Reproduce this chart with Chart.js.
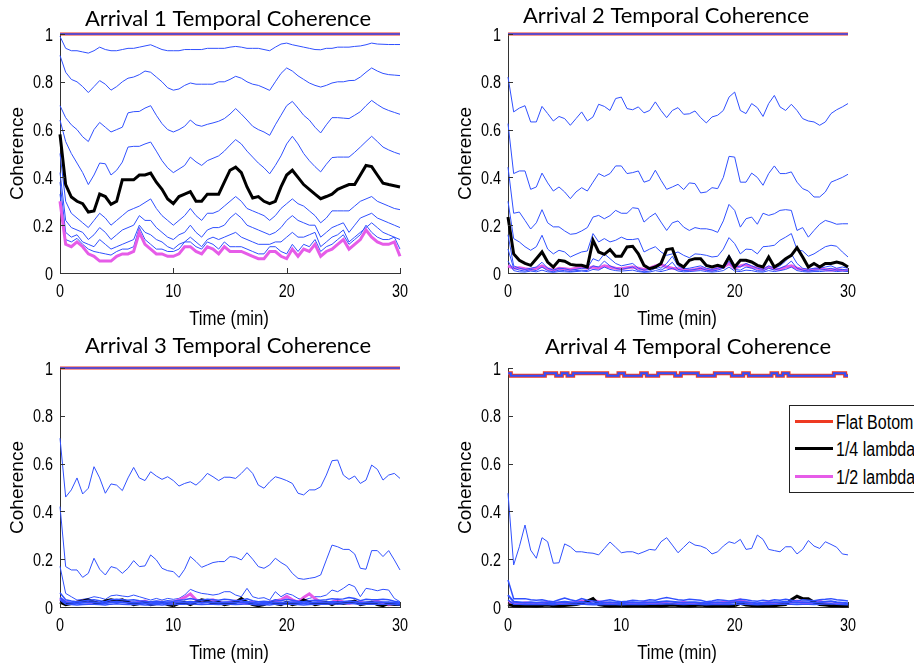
<!DOCTYPE html>
<html>
<head>
<meta charset="utf-8">
<script src="https://cdn.jsdelivr.net/npm/chart.js@4.4.1/dist/chart.umd.min.js"></script>
<style>
  body { margin: 0; width: 914px; height: 664px; overflow: hidden; background: #fff; position: relative; }
  canvas { position: absolute; }
  #c1 { left: 0; top: 0; }
  #c2 { left: 448px; top: 0; }
  #c3 { left: 0; top: 334px; }
  #c4 { left: 448px; top: 334px; }
  #legend {
    position: absolute; left: 789px; top: 405px; width: 200px; height: 86px;
    border: 1px solid #222; background: #fff;
    font-family: 'Liberation Sans', Arial, sans-serif; font-size: 20px; color: #000;
  }
  #legend .row { position: absolute; left: 5px; height: 24px; line-height: 24px; white-space: nowrap; }
  #legend .swatch { display: inline-block; width: 38px; height: 3px; vertical-align: middle; margin-right: 3px; }
  #legend .txt { display: inline-block; transform: scaleX(0.8); transform-origin: left center; vertical-align: middle; }
</style>
</head>
<body>
<canvas id="c1" width="457" height="332"></canvas>
<canvas id="c2" width="466" height="332"></canvas>
<canvas id="c3" width="457" height="330"></canvas>
<canvas id="c4" width="466" height="330"></canvas>
<div id="legend">
  <div class="row" style="top:2px"><span class="swatch" style="background:#ee3a22"></span><span class="txt">Flat Botom</span></div>
  <div class="row" style="top:29px"><span class="swatch" style="background:#000"></span><span class="txt">1/4 lambda</span></div>
  <div class="row" style="top:57px"><span class="swatch" style="background:#e65ce8"></span><span class="txt">1/2 lambda</span></div>
</div>
<script>
// time axis, half-minute samples
var minutes = [0,0.5,1,1.5,2,2.5,3,3.5,4,4.5,5,5.5,6,6.5,7,7.5,8,8.5,9,9.5,10,10.5,11,11.5,12,12.5,13,13.5,14,14.5,
  15,15.5,16,16.5,17,17.5,18,18.5,19,19.5,20,20.5,21,21.5,22,22.5,23,23.5,24,24.5,25,25.5,26,26.5,27,27.5,28,28.5,29,29.5,30];
var ends = [0, 30];
var unity = [1, 1];
var xLabel = 'Time (min)';
var yLabel = 'Coherence';

// ---- Arrival 1 ----
var a1b2 = [0.99,0.94,0.93,0.93,0.925,0.92,0.93,0.945,0.935,0.93, 0.93,0.935,0.94,0.94,0.945,0.95,0.955,0.945,0.935,0.93,
  0.93,0.93,0.935,0.935,0.935,0.935,0.94,0.94,0.94,0.94, 0.945,0.948,0.945,0.94,0.94,0.94,0.935,0.93,0.945,0.958,
  0.962,0.955,0.95,0.945,0.94,0.935,0.934,0.94,0.94,0.945, 0.945,0.945,0.948,0.95,0.955,0.962,0.958,0.957,0.956,0.956, 0.956];
var a1b3 = [0.91,0.84,0.81,0.80,0.78,0.755,0.78,0.805,0.79,0.765, 0.78,0.80,0.815,0.82,0.83,0.845,0.84,0.82,0.80,0.775,
  0.765,0.77,0.785,0.795,0.79,0.79,0.79,0.79,0.80,0.80, 0.81,0.823,0.815,0.80,0.79,0.785,0.775,0.764,0.80,0.835,
  0.858,0.845,0.825,0.81,0.795,0.785,0.778,0.785,0.795,0.80, 0.80,0.805,0.806,0.82,0.84,0.858,0.845,0.835,0.83,0.828, 0.826];
var a1b4 = [0.70,0.65,0.62,0.60,0.57,0.55,0.60,0.63,0.61,0.59, 0.60,0.61,0.67,0.675,0.676,0.69,0.70,0.66,0.625,0.60,
  0.59,0.60,0.614,0.64,0.62,0.614,0.622,0.628,0.635,0.646, 0.665,0.688,0.665,0.64,0.614,0.60,0.59,0.576,0.62,0.66,
  0.70,0.718,0.69,0.66,0.64,0.61,0.586,0.62,0.65,0.65, 0.648,0.646,0.66,0.675,0.70,0.722,0.705,0.69,0.68,0.672, 0.664];
var a1b5 = [0.64,0.55,0.50,0.46,0.42,0.37,0.41,0.46,0.457,0.41, 0.43,0.464,0.527,0.53,0.53,0.54,0.548,0.51,0.47,0.44,
  0.42,0.435,0.45,0.485,0.465,0.45,0.47,0.48,0.49,0.51, 0.535,0.558,0.54,0.51,0.485,0.46,0.44,0.415,0.45,0.49,
  0.54,0.572,0.54,0.50,0.47,0.445,0.423,0.455,0.483,0.485, 0.485,0.485,0.505,0.527,0.55,0.572,0.55,0.527,0.515,0.505, 0.497];
var a1b6 = [0.50,0.30,0.25,0.23,0.21,0.19,0.22,0.25,0.23,0.20, 0.22,0.24,0.26,0.27,0.28,0.295,0.31,0.27,0.24,0.22,
  0.20,0.22,0.24,0.27,0.24,0.22,0.25,0.25,0.26,0.28, 0.30,0.32,0.30,0.27,0.26,0.25,0.24,0.22,0.24,0.27,
  0.29,0.31,0.29,0.28,0.26,0.24,0.21,0.23,0.26,0.26, 0.26,0.26,0.28,0.30,0.31,0.32,0.30,0.29,0.28,0.27, 0.265];
var a1b7 = [0.42,0.22,0.19,0.18,0.17,0.14,0.16,0.19,0.17,0.14, 0.16,0.18,0.19,0.20,0.24,0.22,0.22,0.19,0.17,0.15,
  0.14,0.16,0.17,0.20,0.17,0.15,0.18,0.19,0.19,0.20, 0.23,0.25,0.23,0.20,0.19,0.18,0.17,0.16,0.17,0.19,
  0.22,0.24,0.22,0.21,0.20,0.20,0.15,0.17,0.19,0.20, 0.21,0.17,0.20,0.23,0.24,0.25,0.23,0.22,0.21,0.20, 0.19];
var a1b8 = [0.38,0.17,0.15,0.16,0.13,0.12,0.11,0.14,0.12,0.10, 0.11,0.12,0.13,0.14,0.20,0.17,0.16,0.14,0.13,0.11,
  0.10,0.12,0.13,0.15,0.13,0.11,0.14,0.15,0.14,0.15, 0.16,0.17,0.15,0.14,0.13,0.12,0.12,0.12,0.13,0.13,
  0.15,0.17,0.15,0.15,0.16,0.17,0.11,0.13,0.15,0.16, 0.18,0.13,0.15,0.17,0.19,0.21,0.19,0.17,0.16,0.15, 0.14];
var a1b9 = [0.33,0.14,0.13,0.145,0.12,0.10,0.09,0.085,0.08,0.075, 0.09,0.10,0.10,0.11,0.19,0.14,0.12,0.10,0.10,0.09,
  0.09,0.10,0.13,0.13,0.11,0.10,0.13,0.12,0.10,0.13, 0.11,0.11,0.11,0.10,0.09,0.08,0.08,0.11,0.11,0.09,
  0.08,0.12,0.09,0.12,0.11,0.14,0.09,0.11,0.12,0.14, 0.16,0.12,0.14,0.16,0.20,0.17,0.15,0.14,0.14,0.15, 0.10];
var a1quarter = [0.58,0.37,0.318,0.30,0.29,0.255,0.26,0.33,0.32,0.287, 0.30,0.39,0.39,0.39,0.41,0.41,0.418,0.38,0.35,0.31,
  0.29,0.32,0.33,0.34,0.30,0.30,0.33,0.33,0.33,0.38, 0.43,0.443,0.42,0.36,0.314,0.32,0.30,0.29,0.30,0.36,
  0.41,0.43,0.40,0.37,0.35,0.33,0.311,0.32,0.33,0.35, 0.36,0.37,0.37,0.41,0.45,0.445,0.41,0.376,0.37,0.365, 0.36];
var a1half = [0.30,0.12,0.11,0.13,0.11,0.08,0.07,0.05,0.05,0.05, 0.07,0.08,0.08,0.09,0.17,0.12,0.10,0.08,0.08,0.07,
  0.07,0.08,0.11,0.11,0.09,0.08,0.11,0.10,0.08,0.11, 0.09,0.09,0.09,0.08,0.07,0.06,0.06,0.09,0.09,0.07,
  0.06,0.10,0.07,0.10,0.09,0.12,0.07,0.09,0.10,0.12, 0.14,0.10,0.12,0.14,0.18,0.15,0.13,0.12,0.12,0.13, 0.07];

// ---- Arrival 2 ----
var a2b2 = [0.82,0.674,0.69,0.70,0.632,0.632,0.697,0.667,0.636,0.655, 0.646,0.618,0.646,0.674,0.636,0.653,0.706,0.697,0.68,0.73,
  0.736,0.688,0.683,0.695,0.67,0.68,0.716,0.68,0.65,0.68, 0.692,0.664,0.666,0.678,0.65,0.628,0.653,0.66,0.68,0.736,
  0.757,0.68,0.667,0.709,0.692,0.655,0.709,0.743,0.695,0.68, 0.706,0.68,0.646,0.636,0.632,0.618,0.632,0.667,0.683,0.695, 0.709];
var a2b3 = [0.625,0.416,0.427,0.427,0.35,0.36,0.418,0.377,0.343,0.36, 0.339,0.311,0.339,0.357,0.343,0.38,0.416,0.404,0.416,0.448,
  0.448,0.416,0.42,0.427,0.38,0.388,0.43,0.388,0.35,0.36, 0.371,0.349,0.377,0.374,0.335,0.339,0.357,0.353,0.40,0.488,
  0.485,0.38,0.38,0.418,0.40,0.367,0.416,0.448,0.416,0.416, 0.423,0.38,0.353,0.343,0.318,0.318,0.339,0.38,0.39,0.40, 0.413];
var a2b4 = [0.443,0.25,0.255,0.22,0.184,0.21,0.265,0.21,0.193,0.193, 0.176,0.162,0.165,0.176,0.19,0.234,0.241,0.227,0.24,0.262,
  0.25,0.25,0.273,0.27,0.213,0.234,0.25,0.213,0.178,0.21, 0.218,0.192,0.178,0.19,0.185,0.185,0.18,0.17,0.218,0.287,
  0.262,0.192,0.227,0.234,0.204,0.25,0.241,0.248,0.262,0.265, 0.262,0.178,0.19,0.15,0.178,0.204,0.22,0.213,0.204,0.206, 0.206];
var a2b5 = [0.30,0.144,0.13,0.11,0.095,0.11,0.158,0.10,0.08,0.095, 0.088,0.067,0.078,0.088,0.092,0.165,0.13,0.144,0.13,0.137,
  0.15,0.14,0.14,0.144,0.088,0.10,0.11,0.088,0.074,0.08, 0.088,0.074,0.064,0.08,0.078,0.074,0.067,0.07,0.10,0.148,
  0.123,0.08,0.10,0.098,0.08,0.11,0.112,0.116,0.137,0.15, 0.165,0.098,0.092,0.07,0.08,0.095,0.11,0.116,0.112,0.088, 0.067];
var a2b6 = [0.16,0.03,0.02,0.015,0.02,0.025,0.045,0.02,0.012,0.02, 0.018,0.012,0.015,0.02,0.02,0.06,0.05,0.08,0.06,0.04,
  0.03,0.035,0.04,0.02,0.012,0.015,0.03,0.02,0.04,0.07, 0.03,0.018,0.02,0.025,0.03,0.02,0.015,0.02,0.03,0.075,
  0.03,0.025,0.04,0.03,0.02,0.015,0.03,0.02,0.03,0.05, 0.08,0.04,0.02,0.015,0.02,0.02,0.025,0.03,0.02,0.025, 0.02];
var a2b7 = [0.10,0.02,0.012,0.008,0.015,0.01,0.025,0.01,0.005,0.012, 0.01,0.006,0.01,0.012,0.01,0.03,0.025,0.05,0.03,0.02,
  0.015,0.02,0.025,0.01,0.005,0.008,0.02,0.012,0.025,0.045, 0.015,0.01,0.012,0.015,0.02,0.012,0.008,0.012,0.02,0.05,
  0.015,0.012,0.025,0.02,0.01,0.008,0.02,0.012,0.02,0.03, 0.05,0.02,0.012,0.008,0.012,0.012,0.015,0.02,0.012,0.015, 0.012];
var a2b8 = [0.05,0.01,0.005,0.004,0.008,0.005,0.012,0.005,0.003,0.006, 0.005,0.004,0.006,0.008,0.006,0.015,0.012,0.025,0.015,0.01,
  0.008,0.01,0.012,0.006,0.003,0.004,0.01,0.006,0.012,0.02, 0.008,0.005,0.006,0.008,0.01,0.006,0.004,0.006,0.01,0.025,
  0.008,0.006,0.012,0.01,0.005,0.004,0.01,0.006,0.01,0.015, 0.025,0.01,0.006,0.004,0.006,0.006,0.008,0.01,0.006,0.008, 0.006];
var a2quarter = [0.234,0.08,0.053,0.04,0.032,0.06,0.088,0.046,0.025,0.053, 0.049,0.036,0.032,0.032,0.025,0.137,0.088,0.078,0.098,0.07,
  0.07,0.109,0.112,0.08,0.032,0.018,0.025,0.04,0.098,0.102, 0.04,0.025,0.053,0.06,0.06,0.032,0.025,0.032,0.025,0.067,
  0.025,0.053,0.053,0.046,0.032,0.025,0.067,0.025,0.04,0.06, 0.074,0.106,0.067,0.025,0.04,0.025,0.04,0.04,0.046,0.04, 0.025];
var a2half = [0.03,0.02,0.022,0.018,0.015,0.02,0.03,0.018,0.012,0.02, 0.018,0.015,0.02,0.025,0.02,0.025,0.02,0.03,0.025,0.02,
  0.018,0.022,0.025,0.02,0.015,0.02,0.03,0.035,0.025,0.02, 0.018,0.015,0.012,0.015,0.02,0.015,0.012,0.02,0.025,0.04,
  0.02,0.03,0.035,0.025,0.02,0.015,0.025,0.018,0.015,0.025, 0.03,0.02,0.015,0.012,0.015,0.02,0.015,0.012,0.015,0.012, 0.01];

// ---- Arrival 3 ----
var a3b2 = [0.706,0.46,0.49,0.54,0.473,0.497,0.587,0.54,0.476,0.515, 0.51,0.487,0.54,0.584,0.54,0.529,0.566,0.548,0.534,0.545,
  0.529,0.506,0.517,0.524,0.51,0.531,0.559,0.545,0.529,0.543, 0.543,0.538,0.559,0.584,0.559,0.51,0.497,0.524,0.545,0.538,
  0.529,0.517,0.476,0.469,0.49,0.49,0.503,0.552,0.612,0.615, 0.552,0.534,0.548,0.517,0.531,0.594,0.576,0.531,0.552,0.559, 0.538];
var a3b3 = [0.42,0.169,0.155,0.155,0.124,0.141,0.204,0.158,0.134,0.169, 0.162,0.141,0.162,0.194,0.169,0.172,0.218,0.197,0.162,0.152,
  0.148,0.124,0.158,0.211,0.19,0.166,0.176,0.186,0.19,0.19, 0.211,0.208,0.197,0.227,0.20,0.169,0.162,0.176,0.204,0.186,
  0.172,0.141,0.12,0.116,0.12,0.124,0.134,0.197,0.259,0.252, 0.241,0.241,0.222,0.162,0.158,0.236,0.236,0.211,0.236,0.197, 0.155];
var a3b4 = [0.17,0.057,0.043,0.029,0.032,0.036,0.043,0.039,0.032,0.047, 0.05,0.046,0.043,0.05,0.043,0.036,0.029,0.036,0.029,0.036,
  0.032,0.036,0.05,0.074,0.064,0.057,0.054,0.05,0.054,0.064, 0.064,0.05,0.043,0.078,0.043,0.036,0.039,0.029,0.064,0.043,
  0.057,0.05,0.036,0.029,0.036,0.043,0.043,0.05,0.071,0.064, 0.078,0.095,0.085,0.043,0.078,0.074,0.068,0.074,0.071,0.036, 0.022];
var a3b5 = [0.06,0.03,0.025,0.022,0.025,0.028,0.03,0.026,0.022,0.03, 0.032,0.03,0.028,0.03,0.026,0.024,0.022,0.025,0.022,0.026,
  0.024,0.028,0.03,0.035,0.03,0.028,0.032,0.03,0.028,0.032, 0.03,0.026,0.028,0.034,0.026,0.022,0.024,0.022,0.03,0.026,
  0.032,0.028,0.024,0.022,0.026,0.028,0.028,0.03,0.035,0.032, 0.034,0.04,0.036,0.026,0.032,0.03,0.03,0.032,0.03,0.024, 0.02];
var a3b6 = [0.04,0.02,0.018,0.016,0.018,0.02,0.02,0.018,0.016,0.02, 0.022,0.02,0.018,0.02,0.018,0.016,0.016,0.018,0.016,0.018,
  0.018,0.02,0.02,0.022,0.02,0.018,0.02,0.02,0.018,0.02, 0.02,0.018,0.02,0.022,0.018,0.016,0.018,0.016,0.02,0.018,
  0.02,0.02,0.018,0.016,0.018,0.02,0.02,0.02,0.022,0.02, 0.022,0.024,0.022,0.018,0.02,0.02,0.02,0.02,0.02,0.018, 0.016];
var a3b7 = [0.03,0.012,0.01,0.008,0.01,0.012,0.012,0.01,0.008,0.012, 0.014,0.012,0.01,0.012,0.01,0.008,0.008,0.01,0.008,0.01,
  0.01,0.012,0.012,0.014,0.012,0.01,0.012,0.012,0.01,0.012, 0.012,0.01,0.012,0.014,0.01,0.008,0.01,0.008,0.012,0.01,
  0.012,0.012,0.01,0.008,0.01,0.012,0.012,0.012,0.014,0.012, 0.014,0.016,0.014,0.01,0.012,0.012,0.012,0.012,0.012,0.01, 0.008];
var a3quarter = [0.02,0.01,0.015,0.02,0.025,0.03,0.02,0.015,0.025,0.03, 0.025,0.03,0.02,0.01,0.015,0.02,0.01,0.015,0.02,0.01,
  0.005,0.015,0.02,0.01,0.02,0.03,0.025,0.015,0.02,0.01, 0.015,0.02,0.035,0.02,0.01,0.005,0.01,0.02,0.015,0.01,
  0.02,0.01,0.015,0.03,0.02,0.01,0.015,0.02,0.01,0.02, 0.015,0.02,0.025,0.01,0.015,0.02,0.01,0.005,0.015,0.01, 0.01];
var a3half = [0.035,0.02,0.015,0.02,0.025,0.02,0.02,0.015,0.02,0.025, 0.02,0.025,0.02,0.015,0.02,0.025,0.015,0.02,0.02,0.015,
  0.02,0.03,0.04,0.055,0.03,0.02,0.025,0.03,0.02,0.015, 0.02,0.025,0.02,0.015,0.02,0.01,0.015,0.02,0.025,0.03,
  0.045,0.03,0.02,0.04,0.055,0.035,0.02,0.015,0.02,0.03, 0.02,0.015,0.02,0.02,0.015,0.02,0.025,0.015,0.01,0.015, 0.01];

// ---- Arrival 4 ----
var a4flat = [0.978,0.968,0.968,0.968,0.968,0.968,0.968,0.978,0.978,0.968, 0.978,0.968,0.978,0.978,0.978,0.978,0.978,0.978,0.968,0.968,
  0.978,0.968,0.968,0.968,0.978,0.968,0.968,0.978,0.978,0.978, 0.968,0.978,0.978,0.978,0.968,0.968,0.968,0.978,0.978,0.978,
  0.968,0.968,0.978,0.968,0.968,0.968,0.968,0.978,0.968,0.978, 0.968,0.968,0.968,0.968,0.968,0.968,0.968,0.968,0.978,0.978, 0.968];
var a4b2 = [0.476,0.176,0.252,0.343,0.238,0.204,0.29,0.273,0.183,0.185, 0.264,0.252,0.231,0.231,0.227,0.225,0.218,0.245,0.272,0.25,
  0.227,0.231,0.231,0.222,0.231,0.241,0.238,0.273,0.29,0.259, 0.227,0.25,0.273,0.259,0.255,0.245,0.222,0.231,0.255,0.273,
  0.266,0.283,0.241,0.245,0.301,0.283,0.241,0.236,0.231,0.252, 0.252,0.222,0.241,0.278,0.255,0.245,0.273,0.262,0.25,0.222, 0.218];
var a4b3 = [0.113,0.035,0.035,0.035,0.03,0.028,0.03,0.025,0.022,0.03, 0.038,0.03,0.025,0.035,0.028,0.025,0.022,0.026,0.03,0.025,
  0.022,0.024,0.028,0.026,0.025,0.03,0.028,0.035,0.04,0.035, 0.03,0.028,0.032,0.03,0.028,0.022,0.025,0.03,0.028,0.025,
  0.028,0.032,0.03,0.026,0.024,0.028,0.025,0.03,0.028,0.032, 0.028,0.025,0.03,0.028,0.026,0.03,0.032,0.035,0.03,0.028, 0.025];
var a4b4 = [0.05,0.022,0.02,0.018,0.02,0.018,0.02,0.018,0.016,0.02, 0.022,0.02,0.018,0.022,0.018,0.016,0.016,0.018,0.02,0.018,
  0.016,0.018,0.02,0.018,0.018,0.02,0.02,0.022,0.024,0.022, 0.02,0.018,0.02,0.02,0.018,0.016,0.018,0.02,0.018,0.018,
  0.02,0.022,0.02,0.018,0.016,0.018,0.018,0.02,0.02,0.022, 0.02,0.018,0.02,0.02,0.018,0.02,0.022,0.024,0.02,0.018, 0.016];
var a4b5 = [0.03,0.012,0.012,0.01,0.012,0.01,0.012,0.01,0.009,0.012, 0.013,0.012,0.01,0.013,0.01,0.009,0.009,0.01,0.012,0.01,
  0.009,0.01,0.012,0.01,0.01,0.012,0.012,0.013,0.014,0.013, 0.012,0.01,0.012,0.012,0.01,0.009,0.01,0.012,0.01,0.01,
  0.012,0.013,0.012,0.01,0.009,0.01,0.01,0.012,0.012,0.013, 0.012,0.01,0.012,0.012,0.01,0.012,0.013,0.014,0.012,0.01, 0.009];
var a4quarter = [0.01,0.005,0.004,0.006,0.005,0.004,0.006,0.008,0.005,0.004, 0.006,0.008,0.01,0.015,0.025,0.035,0.01,0.006,0.004,0.005,
  0.006,0.004,0.005,0.006,0.004,0.005,0.005,0.004,0.006,0.008, 0.006,0.005,0.004,0.006,0.008,0.005,0.004,0.005,0.006,0.004,
  0.005,0.015,0.008,0.006,0.005,0.004,0.006,0.005,0.008,0.01, 0.03,0.045,0.035,0.035,0.02,0.01,0.008,0.005,0.006,0.004, 0.005];
var a4half = [0.02,0.015,0.012,0.018,0.015,0.012,0.015,0.02,0.018,0.015, 0.012,0.015,0.02,0.025,0.02,0.028,0.022,0.018,0.015,0.012,
  0.015,0.018,0.015,0.012,0.02,0.015,0.012,0.018,0.015,0.012, 0.015,0.02,0.015,0.012,0.01,0.015,0.018,0.015,0.02,0.018,
  0.025,0.03,0.02,0.015,0.012,0.015,0.02,0.015,0.012,0.015, 0.02,0.025,0.018,0.015,0.02,0.025,0.015,0.012,0.015,0.012, 0.01];

var BLUE = '#3050ff';
var RED = '#ee3a22';
var MAGENTA = '#e65ce8';
var SANS = '"Liberation Sans", Arial, sans-serif';

function xy(t, v) {
  return v.map(function (y, i) { return { x: t[i], y: y }; });
}
function line(v, color, width, t, stepped) {
  return { data: xy(t || minutes, v), borderColor: color, borderWidth: width,
           pointRadius: 0, tension: 0, fill: false, clip: 4, stepped: stepped || false };
}
function tickText(v) {
  return String(Math.round(v * 10) / 10);
}
// condensed text, like the narrow Helvetica of the plots
function narrow(ctx, text, x, y, align) {
  ctx.save();
  ctx.translate(x, y);
  ctx.scale(0.8, 1);
  ctx.textAlign = align;
  ctx.fillText(text, 0, 0);
  ctx.restore();
}

// MATLAB style: ticks point into the plot, labels in a narrow face
var matlabAxes = {
  id: 'matlabAxes',
  afterDraw: function (chart) {
    var ctx = chart.ctx, a = chart.chartArea;
    var xs = chart.scales.x, ys = chart.scales.y;
    ctx.save();
    ctx.strokeStyle = '#333';
    ctx.lineWidth = 1;
    ctx.beginPath();
    xs.ticks.forEach(function (tk) {
      var px = Math.round(xs.getPixelForValue(tk.value)) + 0.5;
      ctx.moveTo(px, a.bottom); ctx.lineTo(px, a.bottom - 5);
    });
    ys.ticks.forEach(function (tk) {
      var py = Math.round(ys.getPixelForValue(tk.value)) + 0.5;
      ctx.moveTo(a.left, py); ctx.lineTo(a.left + 5, py);
    });
    ctx.stroke();

    ctx.fillStyle = '#000';
    ctx.textBaseline = 'alphabetic';
    ctx.font = '18px ' + SANS;
    xs.ticks.forEach(function (tk) {
      narrow(ctx, tickText(tk.value), xs.getPixelForValue(tk.value), a.bottom + 24, 'center');
    });
    ys.ticks.forEach(function (tk) {
      narrow(ctx, tickText(tk.value), a.left - 7, ys.getPixelForValue(tk.value) + 6.5, 'right');
    });
    ctx.font = '21px ' + SANS;
    narrow(ctx, xLabel, (a.left + a.right) / 2 - 1, a.bottom + 52, 'center');
    ctx.restore();
  }
};

var panelTitle = {
  id: 'panelTitle',
  afterDraw: function (chart, args, opts) {
    var ctx = chart.ctx;
    ctx.save();
    ctx.font = '22px Lato, "Open Sans", sans-serif';
    ctx.fillStyle = '#000';
    ctx.textAlign = 'center';
    ctx.textBaseline = 'alphabetic';
    ctx.fillText(opts.text, opts.x, opts.y);
    ctx.restore();
  }
};

function makePanel(id, title, tx, ty, datasets) {
  var canvas = document.getElementById(id);
  return new Chart(canvas, {
    type: 'line',
    data: { datasets: datasets },
    plugins: [matlabAxes, panelTitle],
    options: {
      responsive: false,
      animation: false,
      events: [],
      layout: { padding: { top: 34, left: 0, bottom: 0, right: canvas.width - 400 } },
      plugins: {
        legend: { display: false },
        tooltip: { enabled: false },
        panelTitle: { text: title, x: tx, y: ty }
      },
      scales: {
        x: {
          type: 'linear', min: 0, max: 30,
          afterFit: function (s) { s.height = canvas.height - 273; },
          grid: { display: false, drawTicks: false },
          border: { display: true, color: '#333', width: 1 },
          ticks: { stepSize: 10, display: false }
        },
        y: {
          min: 0, max: 1,
          afterFit: function (s) { s.width = 60; },
          grid: { display: false, drawTicks: false },
          border: { display: true, color: '#333', width: 1 },
          ticks: { stepSize: 0.2, display: false },
          title: { display: true, text: yLabel, color: '#000',
                   padding: { top: 6, bottom: 0 },
                   font: { family: SANS, size: 19 } }
        }
      }
    }
  });
}

makePanel('c1', 'Arrival 1 Temporal Coherence', 228, 26, [
  line(a1quarter, '#000', 3),
  line(a1half, MAGENTA, 3),
  line(a1b9, BLUE, 1), line(a1b8, BLUE, 1), line(a1b7, BLUE, 1), line(a1b6, BLUE, 1),
  line(a1b5, BLUE, 1), line(a1b4, BLUE, 1), line(a1b3, BLUE, 1), line(a1b2, BLUE, 1),
  line(unity, BLUE, 1.5, ends),
  line(unity, RED, 3, ends)
]);

makePanel('c2', 'Arrival 2 Temporal Coherence', 218, 23, [
  line(a2quarter, '#000', 3),
  line(a2b8, BLUE, 1), line(a2b7, BLUE, 1), line(a2b6, BLUE, 1),
  line(a2half, MAGENTA, 3),
  line(a2b5, BLUE, 1), line(a2b4, BLUE, 1), line(a2b3, BLUE, 1), line(a2b2, BLUE, 1),
  line(unity, BLUE, 1.5, ends),
  line(unity, RED, 3, ends)
]);

makePanel('c3', 'Arrival 3 Temporal Coherence', 228, 19, [
  line(a3b7, BLUE, 1.5), line(a3b6, BLUE, 2), line(a3b5, BLUE, 1.5),
  line(a3quarter, '#000', 3),
  line(a3half, MAGENTA, 3),
  line(a3b4, BLUE, 1), line(a3b3, BLUE, 1), line(a3b2, BLUE, 1),
  line(unity, BLUE, 1.5, ends),
  line(unity, RED, 3, ends)
]);

makePanel('c4', 'Arrival 4 Temporal Coherence', 240, 20, [
  line(a4b5, BLUE, 1.5), line(a4b4, BLUE, 2), line(a4b3, BLUE, 1.5),
  line(a4quarter, '#000', 3),
  line(a4half, MAGENTA, 3),
  line(a4b2, BLUE, 1),
  line(a4flat, BLUE, 2, minutes, 'middle'),
  line(a4flat, RED, 4, minutes, 'middle')
]);
</script>
</body>
</html>
